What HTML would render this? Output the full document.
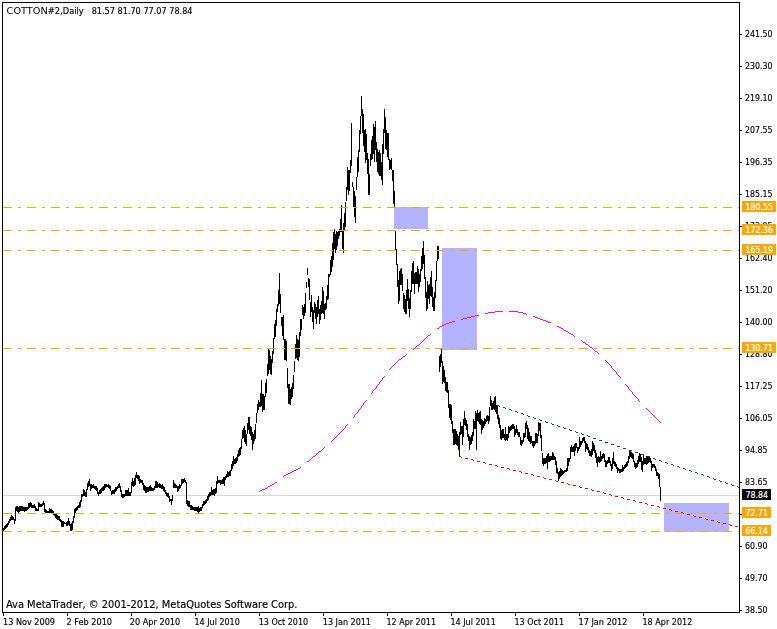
<!DOCTYPE html>
<html><head><meta charset="utf-8"><title>COTTON#2,Daily</title>
<style>html,body{margin:0;padding:0;background:#fff;}svg{display:block;}text{white-space:pre;}</style>
</head><body>
<svg width="777" height="629" viewBox="0 0 777 629">
<rect width="777" height="629" fill="#fff"/>
<rect x="3" y="495" width="736" height="1" fill="#d6d8dc"/>
<path d="M3.5 528V531M4.5 526V530M5.5 525V529M6.5 524V528M7.5 523V527M8.5 521V525M9.5 519V523M10.5 517V521M11.5 515V520M12.5 516V520M13.5 517V520M14.5 519V524M15.5 507V521M16.5 506V511M17.5 506V512M18.5 507V513M19.5 506V512M20.5 506V511M21.5 506V511M22.5 506V511M23.5 507V511M24.5 507V512M25.5 507V511M26.5 507V511M27.5 507V510M28.5 503V509M29.5 503V508M30.5 502V507M31.5 503V508M32.5 505V508M33.5 505V508M34.5 504V508M35.5 506V511M36.5 508V511M37.5 509V511M38.5 502V511M39.5 503V507M40.5 504V507M41.5 504V507M42.5 503V506M43.5 501V505M44.5 503V512M45.5 509V513M46.5 510V513M47.5 511V513M48.5 511V513M49.5 508V513M50.5 509V513M51.5 509V513M52.5 510V514M53.5 511V515M54.5 513V516M55.5 514V518M56.5 514V519M57.5 515V520M58.5 516V520M59.5 516V521M60.5 519V522M61.5 520V527M62.5 521V527M63.5 521V527M64.5 522V524M65.5 523V524M66.5 522V526M67.5 521V526M68.5 518V525M69.5 521V526M70.5 524V531M71.5 523V531M72.5 521V530M73.5 516V523M74.5 509V518M75.5 508V513M76.5 507V511M77.5 506V510M78.5 505V508M79.5 502V508M80.5 500V507M81.5 494V502M82.5 494V497M83.5 489V496M84.5 490V496M85.5 492V497M86.5 489V497M87.5 483V490M88.5 481V487M89.5 479V486M90.5 484V491M91.5 484V489M92.5 485V488M93.5 484V488M94.5 486V489M95.5 486V490M96.5 486V491M97.5 488V494M98.5 492V496M99.5 490V494M100.5 489V494M101.5 488V493M102.5 487V491M103.5 486V491M104.5 484V490M105.5 484V488M106.5 484V487M107.5 485V487M108.5 484V488M109.5 485V489M110.5 486V491M111.5 491V495M112.5 490V494M113.5 490V494M114.5 489V494M115.5 487V492M116.5 487V491M117.5 486V489M118.5 484V488M119.5 483V488M120.5 486V492M121.5 490V497M122.5 494V498M123.5 494V498M124.5 494V497M125.5 490V496M126.5 490V496M127.5 490V496M128.5 488V496M129.5 492V496M130.5 492V496M131.5 482V493M132.5 478V486M133.5 481V487M134.5 478V486M135.5 475V485M136.5 472V478M137.5 475V479M138.5 475V481M139.5 476V484M140.5 479V483M141.5 480V483M142.5 480V485M143.5 483V490M144.5 485V491M145.5 486V493M146.5 487V493M147.5 487V492M148.5 487V492M149.5 486V491M150.5 485V491M151.5 487V491M152.5 488V491M153.5 488V491M154.5 486V490M155.5 481V488M156.5 481V488M157.5 482V488M158.5 484V487M159.5 483V488M160.5 484V488M161.5 485V489M162.5 484V489M163.5 486V491M164.5 487V492M165.5 490V494M166.5 492V496M167.5 493V497M168.5 493V498M169.5 496V502M170.5 499V501M171.5 499V505M172.5 495V501M173.5 480V488M174.5 483V488M175.5 484V488M176.5 485V488M177.5 486V492M178.5 486V491M179.5 484V489M180.5 485V488M181.5 479V486M182.5 479V484M183.5 479V483M184.5 478V482M185.5 480V483M186.5 482V504M187.5 500V506M188.5 501V507M189.5 501V507M190.5 505V510M191.5 505V510M192.5 506V510M193.5 507V510M194.5 507V511M195.5 507V511M196.5 507V511M197.5 507V512M198.5 506V513M199.5 508V512M200.5 507V511M201.5 507V511M202.5 504V508M203.5 501V506M204.5 501V505M205.5 500V504M206.5 499V503M207.5 496V501M208.5 494V500M209.5 492V497M210.5 492V496M211.5 487V495M212.5 490V495M213.5 489V495M214.5 489V496M215.5 488V494M216.5 481V493M217.5 476V484M218.5 480V483M219.5 480V483M220.5 480V485M221.5 480V484M222.5 479V484M223.5 477V484M224.5 477V486M225.5 476V480M226.5 474V478M227.5 471V477M228.5 472V477M229.5 471V476M230.5 470V476M231.5 464V471M232.5 461V469M233.5 456V466M234.5 459V464M235.5 458V464M236.5 457V463M237.5 454V461M238.5 450V457M239.5 448V456M240.5 447V455M241.5 439V449M242.5 430V439M243.5 428V438M244.5 426V442M245.5 430V444M246.5 434V446M247.5 423V434M248.5 417V430M249.5 417V434M250.5 426V436M251.5 427V440M252.5 432V450M253.5 434V444M254.5 430V441M255.5 424V439M256.5 413V423M257.5 404V413M258.5 400V410M259.5 402V407M260.5 393V407M261.5 380V406M262.5 394V412M263.5 394V410M264.5 396V410M265.5 383V397M266.5 379V393M267.5 364V376M268.5 349V374M269.5 350V370M270.5 356V374M271.5 359V375M272.5 351V363M273.5 338V354M274.5 324V339M275.5 320V337M276.5 309V326M277.5 304V312M278.5 290V306M279.5 273V304M280.5 294V313M281.5 317V326M282.5 317V336M283.5 315V340M284.5 339V360M285.5 339V360M286.5 341V361M287.5 368V388M288.5 384V404M289.5 384V404M290.5 389V405M291.5 387V399M292.5 383V397M293.5 375V389M294.5 361V372M295.5 344V359M296.5 335V358M297.5 339V360M298.5 340V361M299.5 332V357M300.5 319V336M301.5 319V330M302.5 305V315M303.5 307V319M304.5 304V316M305.5 293V313M306.5 282V288M307.5 268V275M308.5 278V287M309.5 279V300M310.5 302V317M311.5 295V312M312.5 307V322M313.5 310V329M314.5 302V313M315.5 304V319M316.5 307V324M317.5 300V317M318.5 296V314M319.5 309V324M320.5 305V320M321.5 301V314M322.5 287V313M323.5 291V314M324.5 304V319M325.5 303V310M326.5 296V309M327.5 285V300M328.5 274V299M329.5 274V277M330.5 260V275M331.5 256V272M332.5 243V267M333.5 232V260M334.5 229V249M335.5 234V253M336.5 231V250M337.5 232V246M338.5 231V239M339.5 229V236M340.5 219V232M341.5 205V232M342.5 230V249M343.5 223V253M344.5 213V230M345.5 202V227M346.5 187V201M347.5 167V190M348.5 170V195M349.5 170V191M350.5 160V173M351.5 123V166M352.5 182V187M353.5 187V207M354.5 191V217M355.5 196V223M356.5 177V190M357.5 157V177M358.5 150V172M359.5 130V152M360.5 116V134M361.5 96V116M362.5 109V133M363.5 114V146M364.5 130V152M365.5 129V163M366.5 134V160M367.5 153V174M368.5 159V195M369.5 174V195M370.5 154V166M371.5 140V160M372.5 136V159M373.5 124V154M374.5 127V162M375.5 121V150M376.5 142V162M377.5 149V172M378.5 152V174M379.5 150V176M380.5 153V176M381.5 162V180M382.5 144V185M383.5 129V154M384.5 109V133M385.5 117V149M386.5 130V150M387.5 133V157M388.5 133V160M389.5 159V170M390.5 160V169M391.5 158V170M392.5 170V181M393.5 170V204M394.5 191V209M395.5 230V250M396.5 249V265M397.5 264V287M398.5 280V304M399.5 271V301M400.5 269V285M401.5 268V285M402.5 274V291M403.5 293V309M404.5 295V312M405.5 299V314M406.5 290V314M407.5 279V301M408.5 289V309M409.5 298V317M410.5 290V309M411.5 271V292M412.5 263V284M413.5 261V284M414.5 273V294M415.5 272V284M416.5 272V284M417.5 266V284M418.5 269V292M419.5 274V287M420.5 269V282M421.5 256V271M422.5 248V269M423.5 241V264M424.5 255V279M425.5 277V298M426.5 292V311M427.5 281V309M428.5 285V299M429.5 284V304M430.5 277V296M431.5 271V297M432.5 287V307M433.5 297V311M434.5 292V311M435.5 280V298M436.5 261V281M437.5 246V261M438.5 246V259M439.5 356V372M440.5 354V367M441.5 349V363M442.5 361V384M443.5 366V382M444.5 370V383M445.5 377V391M446.5 382V392M447.5 382V393M448.5 390V408M449.5 404V418M450.5 404V420M451.5 405V424M452.5 421V433M453.5 429V445M454.5 429V445M455.5 429V444M456.5 431V445M457.5 434V446M458.5 436V450M459.5 432V457M460.5 422V435M461.5 426V434M462.5 426V445M463.5 419V437M464.5 411V425M465.5 418V426M466.5 420V430M467.5 424V437M468.5 434V441M469.5 436V450M470.5 437V445M471.5 435V444M472.5 432V441M473.5 419V436M474.5 421V429M475.5 411V429M476.5 413V450M477.5 410V421M478.5 413V422M479.5 412V424M480.5 411V425M481.5 419V434M482.5 420V430M483.5 421V428M484.5 418V426M485.5 419V424M486.5 416V422M487.5 415V421M488.5 416V424M489.5 407V421M490.5 396V406M491.5 400V410M492.5 403V410M493.5 401V409M494.5 397V410M495.5 396V412M496.5 405V414M497.5 406V419M498.5 415V424M499.5 418V428M500.5 425V439M501.5 430V440M502.5 429V438M503.5 429V438M504.5 434V440M505.5 427V441M506.5 434V440M507.5 434V441M508.5 426V438M509.5 427V433M510.5 426V431M511.5 425V430M512.5 424V429M513.5 424V429M514.5 426V437M515.5 429V435M516.5 425V433M517.5 429V435M518.5 432V437M519.5 432V437M520.5 437V445M521.5 440V446M522.5 440V444M523.5 433V442M524.5 433V438M525.5 423V437M526.5 421V429M527.5 425V439M528.5 428V441M529.5 432V442M530.5 436V444M531.5 436V443M532.5 441V446M533.5 441V448M534.5 441V446M535.5 433V444M536.5 433V443M537.5 434V443M538.5 422V436M539.5 423V431M540.5 423V438M541.5 435V451M542.5 453V464M543.5 458V466M544.5 458V464M545.5 458V464M546.5 456V463M547.5 454V469M548.5 453V462M549.5 456V462M550.5 456V461M551.5 456V460M552.5 452V460M553.5 453V460M554.5 456V460M555.5 457V465M556.5 461V473M557.5 468V474M558.5 472V481M559.5 471V479M560.5 468V477M561.5 469V476M562.5 470V475M563.5 471V474M564.5 470V473M565.5 470V472M566.5 468V472M567.5 458V471M568.5 458V466M569.5 458V462M570.5 447V459M571.5 445V452M572.5 447V452M573.5 446V452M574.5 444V456M575.5 443V451M576.5 443V448M577.5 447V453M578.5 447V451M579.5 437V449M580.5 441V447M581.5 441V445M582.5 438V443M583.5 437V441M584.5 437V443M585.5 441V452M586.5 443V449M587.5 444V450M588.5 447V453M589.5 450V456M590.5 451V456M591.5 449V457M592.5 441V455M593.5 443V451M594.5 445V453M595.5 450V458M596.5 453V463M597.5 457V467M598.5 456V462M599.5 457V463M600.5 451V462M601.5 456V461M602.5 454V459M603.5 453V458M604.5 454V462M605.5 460V467M606.5 461V467M607.5 460V464M608.5 457V463M609.5 457V463M610.5 461V466M611.5 464V471M612.5 458V469M613.5 452V464M614.5 461V466M615.5 462V467M616.5 464V469M617.5 467V473M618.5 468V471M619.5 469V473M620.5 469V473M621.5 469V472M622.5 465V472M623.5 467V471M624.5 465V469M625.5 464V468M626.5 462V467M627.5 461V466M628.5 456V463M629.5 451V459M630.5 451V457M631.5 452V458M632.5 453V459M633.5 454V462M634.5 461V467M635.5 463V469M636.5 463V468M637.5 460V467M638.5 456V464M639.5 453V462M640.5 454V462M641.5 457V470M642.5 461V472M643.5 454V465M644.5 458V464M645.5 458V464M646.5 456V465M647.5 456V464M648.5 457V463M649.5 457V462M650.5 458V463M651.5 461V471M652.5 464V468M653.5 464V467M654.5 464V468M655.5 466V471M656.5 469V476M657.5 472V476M658.5 473V479M659.5 474V487M660.5 487V501" stroke="#000" stroke-width="1" fill="none" shape-rendering="crispEdges"/>
<rect x="394" y="207" width="34" height="22" fill="#b3b3ff"/>
<rect x="442" y="248" width="35" height="102" fill="#b3b3ff"/>
<rect x="664" y="503" width="65" height="29" fill="#b3b3ff"/>
<path d="M3 207.5H739" stroke="#ffa500" stroke-width="1" stroke-dasharray="9 6 3 6" fill="none" shape-rendering="crispEdges"/>
<path d="M3 230.5H739" stroke="#ffa500" stroke-width="1" stroke-dasharray="9 6 3 6" fill="none" shape-rendering="crispEdges"/>
<path d="M3 250.5H739" stroke="#ffa500" stroke-width="1" stroke-dasharray="9 6 3 6" fill="none" shape-rendering="crispEdges"/>
<path d="M3 348.5H739" stroke="#ffa500" stroke-width="1" stroke-dasharray="9 6 3 6" fill="none" shape-rendering="crispEdges"/>
<path d="M3 513.5H739" stroke="#ffa500" stroke-width="1" stroke-dasharray="9 6 3 6" fill="none" shape-rendering="crispEdges"/>
<path d="M3 531.5H739" stroke="#ffa500" stroke-width="1" stroke-dasharray="9 6 3 6" fill="none" shape-rendering="crispEdges"/>
<path d="M495 311.5h8M509 311.5h9M488 312.5h7M518 312.5h5M485 313.5h3M523 313.5h3M526 314.5h1M475 315.5h4M471 316.5h4M533 316.5h2M467 317.5h4M535 317.5h3M463 318.5h4M538 318.5h2M461 319.5h2M540 319.5h3M543 320.5h3M452 321.5h3M546 321.5h2M449 322.5h3M548 322.5h3M446 323.5h3M444 324.5h2M442 325.5h2M440 326.5h2M557 326.5h2M439 327.5h1M559 327.5h2M437 328.5h2M561 328.5h2M563 329.5h1M564 330.5h2M566 331.5h2M568 332.5h1M569 333.5h2M430 334.5h1M571 334.5h2M428 335.5h2M573 335.5h1M427 336.5h1M574 336.5h1M426 337.5h1M425 338.5h1M424 339.5h1M423 340.5h1M581 340.5h1M422 341.5h1M582 341.5h1M421 342.5h1M583 342.5h2M420 343.5h1M585 343.5h1M419 344.5h1M586 344.5h2M417 345.5h2M588 345.5h1M416 346.5h1M589 346.5h1M415 347.5h1M590 347.5h2M414 348.5h1M592 348.5h1M413 349.5h1M593 349.5h1M594 350.5h1M595 351.5h2M597 352.5h1M598 353.5h1M406 354.5h1M405 355.5h1M403 356.5h2M402 357.5h1M401 358.5h1M399 359.5h2M398 360.5h1M605 360.5h1M397 361.5h1M606 361.5h1M396 362.5h1M607 362.5h1M395 363.5h1M608 363.5h1M394 364.5h1M609 364.5h1M393 365.5h1M610 365.5h1M392 366.5h1M611 366.5h1M391 367.5h1M611 367.5h1M390 368.5h1M612 368.5h1M389 369.5h1M613 369.5h1M614 370.5h1M615 371.5h1M616 372.5h1M616 373.5h1M617 374.5h1M618 375.5h1M384 376.5h1M619 376.5h1M383 377.5h1M620 377.5h1M382 378.5h1M382 379.5h1M381 380.5h1M380 381.5h1M379 382.5h1M379 383.5h1M378 384.5h1M625 384.5h1M377 385.5h1M626 385.5h1M376 386.5h1M627 386.5h1M376 387.5h1M628 387.5h1M375 388.5h1M628 388.5h1M374 389.5h1M629 389.5h1M373 390.5h1M630 390.5h1M372 391.5h1M631 391.5h1M372 392.5h1M632 392.5h1M371 393.5h1M632 393.5h1M633 394.5h1M634 395.5h1M635 396.5h1M636 397.5h1M637 398.5h1M638 399.5h1M366 400.5h1M638 400.5h1M365 401.5h1M639 401.5h1M364 402.5h1M363 403.5h1M363 404.5h1M362 405.5h1M361 406.5h1M361 407.5h1M360 408.5h1M646 408.5h1M359 409.5h1M647 409.5h1M358 410.5h1M648 410.5h1M358 411.5h1M649 411.5h1M357 412.5h1M650 412.5h1M356 413.5h1M651 413.5h1M355 414.5h1M652 414.5h1M354 415.5h1M653 415.5h1M354 416.5h1M654 416.5h1M353 417.5h1M655 417.5h1M656 418.5h1M657 419.5h1M658 420.5h1M659 421.5h1M660 422.5h1M347 424.5h1M346 425.5h1M345 426.5h1M345 427.5h1M344 428.5h1M343 429.5h1M342 430.5h1M341 431.5h1M340 432.5h1M339 433.5h1M338 434.5h1M337 435.5h1M336 436.5h1M335 437.5h1M334 438.5h1M333 439.5h1M332 440.5h1M331 441.5h1M324 447.5h1M323 448.5h1M322 449.5h1M321 450.5h1M319 451.5h2M318 452.5h1M317 453.5h1M316 454.5h1M315 455.5h1M313 456.5h2M312 457.5h1M311 458.5h1M310 459.5h1M309 460.5h1M307 461.5h2M300 467.5h1M298 468.5h2M296 469.5h2M294 470.5h2M292 471.5h2M290 472.5h2M288 473.5h2M286 474.5h2M284 475.5h2M283 476.5h1M275 482.5h2M274 483.5h1M272 484.5h2M270 485.5h2M268 486.5h2M267 487.5h1M265 488.5h2M262 489.5h3M260 490.5h2M259 491.5h1" stroke="#ff00ff" stroke-width="1" fill="none" shape-rendering="crispEdges"/>
<path d="M497 405.5h2M499 406.5h1M503 407.5h2M505 408.5h1M509 409.5h2M511 410.5h1M515 411.5h2M517 412.5h1M521 413.5h2M523 414.5h1M527 415.5h1M528 416.5h2M533 417.5h1M534 418.5h2M539 419.5h1M540 420.5h2M545 421.5h1M546 422.5h2M551 423.5h1M552 424.5h2M557 425.5h1M558 426.5h2M563 427.5h1M564 428.5h2M569 429.5h1M570 430.5h2M575 431.5h1M576 432.5h2M581 433.5h1M582 434.5h2M587 435.5h1M588 436.5h2M593 438.5h3M599 440.5h3M605 442.5h3M611 444.5h3M617 446.5h3M623 448.5h3M629 450.5h3M635 452.5h3M641 454.5h3M647 456.5h3M653 458.5h2M655 459.5h1M659 460.5h2M661 461.5h1M665 462.5h2M667 463.5h1M671 464.5h2M673 465.5h1M677 466.5h2M679 467.5h1M683 468.5h2M685 469.5h1M689 470.5h2M691 471.5h1M695 472.5h2M697 473.5h1M701 474.5h2M703 475.5h1M707 476.5h2M709 477.5h1M713 478.5h1M714 479.5h2M719 480.5h1M720 481.5h2M725 482.5h1M726 483.5h2M731 484.5h1M732 485.5h2M737 486.5h1M738 487.5h1" stroke="#006400" stroke-width="1" fill="none" shape-rendering="crispEdges"/>
<path d="M459 456.5h2M461 457.5h1M465 458.5h3M471 459.5h2M473 460.5h1M477 461.5h3M483 462.5h2M485 463.5h1M489 464.5h3M495 465.5h2M497 466.5h1M501 467.5h3M507 468.5h2M509 469.5h1M513 470.5h3M519 471.5h2M521 472.5h1M525 473.5h3M531 474.5h2M533 475.5h1M537 476.5h3M543 477.5h1M544 478.5h2M549 479.5h3M555 480.5h1M556 481.5h2M561 482.5h3M567 483.5h1M568 484.5h2M573 485.5h3M579 486.5h1M580 487.5h2M585 488.5h3M591 489.5h1M592 490.5h2M597 491.5h3M603 492.5h1M604 493.5h2M609 494.5h2M611 495.5h1M615 496.5h3M621 497.5h2M623 498.5h1M627 499.5h3M633 500.5h2M635 501.5h1M639 502.5h3M645 503.5h2M647 504.5h1M651 505.5h3M657 506.5h2M659 507.5h1M663 508.5h3M669 509.5h2M671 510.5h1M675 511.5h3M681 512.5h2M683 513.5h1M687 514.5h3M693 515.5h1M694 516.5h2M699 517.5h3M705 518.5h1M706 519.5h2M711 520.5h3M717 521.5h1M718 522.5h2M723 523.5h3M729 524.5h1M730 525.5h2M735 526.5h3" stroke="#ff0000" stroke-width="1" fill="none" shape-rendering="crispEdges"/>
<g fill="#000" shape-rendering="crispEdges">
<rect x="2" y="2" width="738" height="1"/>
<rect x="2" y="2" width="1" height="611"/>
<rect x="739" y="2" width="1" height="611"/>
<rect x="2" y="612" width="738" height="1"/>
<rect x="740" y="34" width="2" height="1"/>
<rect x="740" y="66" width="2" height="1"/>
<rect x="740" y="98" width="2" height="1"/>
<rect x="740" y="130" width="2" height="1"/>
<rect x="740" y="162" width="2" height="1"/>
<rect x="740" y="194" width="2" height="1"/>
<rect x="740" y="226" width="2" height="1"/>
<rect x="740" y="258" width="2" height="1"/>
<rect x="740" y="290" width="2" height="1"/>
<rect x="740" y="322" width="2" height="1"/>
<rect x="740" y="354" width="2" height="1"/>
<rect x="740" y="386" width="2" height="1"/>
<rect x="740" y="418" width="2" height="1"/>
<rect x="740" y="450" width="2" height="1"/>
<rect x="740" y="482" width="2" height="1"/>
<rect x="740" y="514" width="2" height="1"/>
<rect x="740" y="546" width="2" height="1"/>
<rect x="740" y="578" width="2" height="1"/>
<rect x="740" y="610" width="2" height="1"/>
<rect x="3" y="613" width="1" height="3"/>
<rect x="67" y="613" width="1" height="3"/>
<rect x="131" y="613" width="1" height="3"/>
<rect x="195" y="613" width="1" height="3"/>
<rect x="259" y="613" width="1" height="3"/>
<rect x="323" y="613" width="1" height="3"/>
<rect x="387" y="613" width="1" height="3"/>
<rect x="451" y="613" width="1" height="3"/>
<rect x="515" y="613" width="1" height="3"/>
<rect x="579" y="613" width="1" height="3"/>
<rect x="643" y="613" width="1" height="3"/>
</g>
<g stroke="#000" stroke-width="0.15" style="filter:grayscale(1)">
<text x="745" y="37" font-family="&quot;DejaVu Sans Condensed&quot;,&quot;Liberation Sans&quot;,sans-serif" font-size="9" textLength="27.5" lengthAdjust="spacingAndGlyphs" fill="#000">241.50</text>
<text x="745" y="69" font-family="&quot;DejaVu Sans Condensed&quot;,&quot;Liberation Sans&quot;,sans-serif" font-size="9" textLength="27.5" lengthAdjust="spacingAndGlyphs" fill="#000">230.30</text>
<text x="745" y="101" font-family="&quot;DejaVu Sans Condensed&quot;,&quot;Liberation Sans&quot;,sans-serif" font-size="9" textLength="27.5" lengthAdjust="spacingAndGlyphs" fill="#000">219.10</text>
<text x="745" y="133" font-family="&quot;DejaVu Sans Condensed&quot;,&quot;Liberation Sans&quot;,sans-serif" font-size="9" textLength="27.5" lengthAdjust="spacingAndGlyphs" fill="#000">207.55</text>
<text x="745" y="165" font-family="&quot;DejaVu Sans Condensed&quot;,&quot;Liberation Sans&quot;,sans-serif" font-size="9" textLength="27.5" lengthAdjust="spacingAndGlyphs" fill="#000">196.35</text>
<text x="745" y="197" font-family="&quot;DejaVu Sans Condensed&quot;,&quot;Liberation Sans&quot;,sans-serif" font-size="9" textLength="27.5" lengthAdjust="spacingAndGlyphs" fill="#000">185.15</text>
<text x="745" y="229" font-family="&quot;DejaVu Sans Condensed&quot;,&quot;Liberation Sans&quot;,sans-serif" font-size="9" textLength="27.5" lengthAdjust="spacingAndGlyphs" fill="#000">173.95</text>
<text x="745" y="261" font-family="&quot;DejaVu Sans Condensed&quot;,&quot;Liberation Sans&quot;,sans-serif" font-size="9" textLength="27.5" lengthAdjust="spacingAndGlyphs" fill="#000">162.40</text>
<text x="745" y="293" font-family="&quot;DejaVu Sans Condensed&quot;,&quot;Liberation Sans&quot;,sans-serif" font-size="9" textLength="27.5" lengthAdjust="spacingAndGlyphs" fill="#000">151.20</text>
<text x="745" y="325" font-family="&quot;DejaVu Sans Condensed&quot;,&quot;Liberation Sans&quot;,sans-serif" font-size="9" textLength="27.5" lengthAdjust="spacingAndGlyphs" fill="#000">140.00</text>
<text x="745" y="357" font-family="&quot;DejaVu Sans Condensed&quot;,&quot;Liberation Sans&quot;,sans-serif" font-size="9" textLength="27.5" lengthAdjust="spacingAndGlyphs" fill="#000">128.80</text>
<text x="745" y="389" font-family="&quot;DejaVu Sans Condensed&quot;,&quot;Liberation Sans&quot;,sans-serif" font-size="9" textLength="27.5" lengthAdjust="spacingAndGlyphs" fill="#000">117.25</text>
<text x="745" y="421" font-family="&quot;DejaVu Sans Condensed&quot;,&quot;Liberation Sans&quot;,sans-serif" font-size="9" textLength="27.5" lengthAdjust="spacingAndGlyphs" fill="#000">106.05</text>
<text x="745" y="453" font-family="&quot;DejaVu Sans Condensed&quot;,&quot;Liberation Sans&quot;,sans-serif" font-size="9" textLength="22.5" lengthAdjust="spacingAndGlyphs" fill="#000">94.85</text>
<text x="745" y="485" font-family="&quot;DejaVu Sans Condensed&quot;,&quot;Liberation Sans&quot;,sans-serif" font-size="9" textLength="22.5" lengthAdjust="spacingAndGlyphs" fill="#000">83.65</text>
<text x="745" y="517" font-family="&quot;DejaVu Sans Condensed&quot;,&quot;Liberation Sans&quot;,sans-serif" font-size="9" textLength="22.5" lengthAdjust="spacingAndGlyphs" fill="#000">72.45</text>
<text x="745" y="549" font-family="&quot;DejaVu Sans Condensed&quot;,&quot;Liberation Sans&quot;,sans-serif" font-size="9" textLength="22.5" lengthAdjust="spacingAndGlyphs" fill="#000">60.90</text>
<text x="745" y="581" font-family="&quot;DejaVu Sans Condensed&quot;,&quot;Liberation Sans&quot;,sans-serif" font-size="9" textLength="22.5" lengthAdjust="spacingAndGlyphs" fill="#000">49.70</text>
<text x="745" y="613" font-family="&quot;DejaVu Sans Condensed&quot;,&quot;Liberation Sans&quot;,sans-serif" font-size="9" textLength="22.5" lengthAdjust="spacingAndGlyphs" fill="#000">38.50</text>
</g>
<rect x="742" y="201" width="34" height="11" fill="#ffa500"/><text x="745.5" y="210" font-family="&quot;DejaVu Sans Condensed&quot;,&quot;Liberation Sans&quot;,sans-serif" font-size="9" textLength="27.5" lengthAdjust="spacingAndGlyphs" fill="#fff" stroke="#fff" stroke-width="0.2">180.55</text>
<rect x="742" y="224" width="34" height="11" fill="#ffa500"/><text x="745.5" y="233" font-family="&quot;DejaVu Sans Condensed&quot;,&quot;Liberation Sans&quot;,sans-serif" font-size="9" textLength="27.5" lengthAdjust="spacingAndGlyphs" fill="#fff" stroke="#fff" stroke-width="0.2">172.36</text>
<rect x="742" y="244" width="34" height="11" fill="#ffa500"/><text x="745.5" y="253" font-family="&quot;DejaVu Sans Condensed&quot;,&quot;Liberation Sans&quot;,sans-serif" font-size="9" textLength="27.5" lengthAdjust="spacingAndGlyphs" fill="#fff" stroke="#fff" stroke-width="0.2">165.19</text>
<rect x="742" y="342" width="34" height="11" fill="#ffa500"/><text x="745.5" y="351" font-family="&quot;DejaVu Sans Condensed&quot;,&quot;Liberation Sans&quot;,sans-serif" font-size="9" textLength="27.5" lengthAdjust="spacingAndGlyphs" fill="#fff" stroke="#fff" stroke-width="0.2">130.71</text>
<rect x="742" y="489" width="29" height="11" fill="#000"/><text x="745.5" y="498" font-family="&quot;DejaVu Sans Condensed&quot;,&quot;Liberation Sans&quot;,sans-serif" font-size="9" textLength="22.5" lengthAdjust="spacingAndGlyphs" fill="#fff" stroke="#fff" stroke-width="0.2">78.84</text>
<rect x="742" y="507" width="29" height="11" fill="#ffa500"/><text x="745.5" y="516" font-family="&quot;DejaVu Sans Condensed&quot;,&quot;Liberation Sans&quot;,sans-serif" font-size="9" textLength="22.5" lengthAdjust="spacingAndGlyphs" fill="#fff" stroke="#fff" stroke-width="0.2">72.71</text>
<rect x="742" y="525" width="29" height="11" fill="#ffa500"/><text x="745.5" y="534" font-family="&quot;DejaVu Sans Condensed&quot;,&quot;Liberation Sans&quot;,sans-serif" font-size="9" textLength="22.5" lengthAdjust="spacingAndGlyphs" fill="#fff" stroke="#fff" stroke-width="0.2">66.14</text>
<g stroke="#000" stroke-width="0.15" style="filter:grayscale(1)">
<text x="3" y="625" font-family="&quot;DejaVu Sans Condensed&quot;,&quot;Liberation Sans&quot;,sans-serif" font-size="9" textLength="52.0" lengthAdjust="spacingAndGlyphs" fill="#000">13 Nov 2009</text>
<text x="66.5" y="625" font-family="&quot;DejaVu Sans Condensed&quot;,&quot;Liberation Sans&quot;,sans-serif" font-size="9" textLength="45.5" lengthAdjust="spacingAndGlyphs" fill="#000">2 Feb 2010</text>
<text x="129.8" y="625" font-family="&quot;DejaVu Sans Condensed&quot;,&quot;Liberation Sans&quot;,sans-serif" font-size="9" textLength="50.4" lengthAdjust="spacingAndGlyphs" fill="#000">20 Apr 2010</text>
<text x="194.5" y="625" font-family="&quot;DejaVu Sans Condensed&quot;,&quot;Liberation Sans&quot;,sans-serif" font-size="9" textLength="45.3" lengthAdjust="spacingAndGlyphs" fill="#000">14 Jul 2010</text>
<text x="258.7" y="625" font-family="&quot;DejaVu Sans Condensed&quot;,&quot;Liberation Sans&quot;,sans-serif" font-size="9" textLength="49.4" lengthAdjust="spacingAndGlyphs" fill="#000">13 Oct 2010</text>
<text x="322.8" y="625" font-family="&quot;DejaVu Sans Condensed&quot;,&quot;Liberation Sans&quot;,sans-serif" font-size="9" textLength="48.2" lengthAdjust="spacingAndGlyphs" fill="#000">13 Jan 2011</text>
<text x="386.5" y="625" font-family="&quot;DejaVu Sans Condensed&quot;,&quot;Liberation Sans&quot;,sans-serif" font-size="9" textLength="49.5" lengthAdjust="spacingAndGlyphs" fill="#000">12 Apr 2011</text>
<text x="450.5" y="625" font-family="&quot;DejaVu Sans Condensed&quot;,&quot;Liberation Sans&quot;,sans-serif" font-size="9" textLength="45.3" lengthAdjust="spacingAndGlyphs" fill="#000">14 Jul 2011</text>
<text x="514.5" y="625" font-family="&quot;DejaVu Sans Condensed&quot;,&quot;Liberation Sans&quot;,sans-serif" font-size="9" textLength="49.5" lengthAdjust="spacingAndGlyphs" fill="#000">13 Oct 2011</text>
<text x="578.5" y="625" font-family="&quot;DejaVu Sans Condensed&quot;,&quot;Liberation Sans&quot;,sans-serif" font-size="9" textLength="48.9" lengthAdjust="spacingAndGlyphs" fill="#000">17 Jan 2012</text>
<text x="642.5" y="625" font-family="&quot;DejaVu Sans Condensed&quot;,&quot;Liberation Sans&quot;,sans-serif" font-size="9" textLength="49.8" lengthAdjust="spacingAndGlyphs" fill="#000">18 Apr 2012</text>
<text x="6.6" y="14" font-family="&quot;DejaVu Sans Condensed&quot;,&quot;Liberation Sans&quot;,sans-serif" font-size="9" textLength="41.2" lengthAdjust="spacingAndGlyphs" fill="#000" stroke="none">COTTON</text>
<text x="47.8" y="14" font-family="&quot;DejaVu Sans Condensed&quot;,&quot;Liberation Sans&quot;,sans-serif" font-size="9" textLength="36" lengthAdjust="spacingAndGlyphs" fill="#000">#2,Daily</text>
<text x="91.7" y="14" font-family="&quot;DejaVu Sans Condensed&quot;,&quot;Liberation Sans&quot;,sans-serif" font-size="9" textLength="100.8" lengthAdjust="spacingAndGlyphs" fill="#000">81.57 81.70 77.07 78.84</text>
<text x="6" y="608" font-family="&quot;DejaVu Sans Condensed&quot;,&quot;Liberation Sans&quot;,sans-serif" font-size="11" textLength="291.5" lengthAdjust="spacingAndGlyphs" fill="#000">Ava MetaTrader, © 2001-2012, MetaQuotes Software Corp.</text>
</g>
</svg>
</body></html>
